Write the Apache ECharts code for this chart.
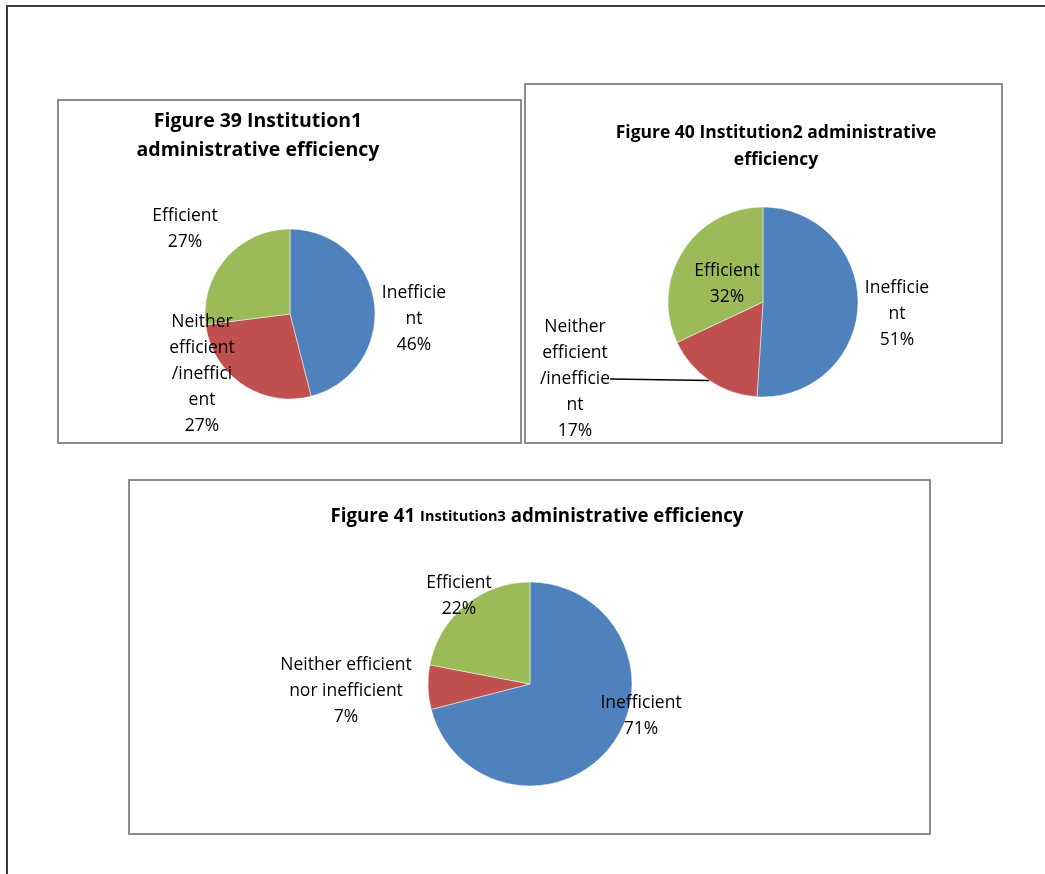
<!DOCTYPE html>
<html>
<head>
<meta charset="utf-8">
<title>Administrative efficiency by institution</title>
<script src="https://cdn.jsdelivr.net/npm/echarts@6/dist/echarts.min.js"></script>
<style>
  html, body { margin: 0; padding: 0; background: #fff; }
  #chart { width: 1045px; height: 874px; }
</style>
</head>
<body>
<div id="chart"></div>
<script>
// Categories and shares (%) for each institution
const categories1 = ['Inefficient', 'Neither efficient /inefficient', 'Efficient'];
const values1 = [46, 27, 27];
const labels1 = ['Inefficie\nnt', 'Neither\nefficient\n/ineffici\nent', 'Efficient'];

const categories2 = ['Inefficient', 'Neither efficient /inefficient', 'Efficient'];
const values2 = [51, 17, 32];
const labels2 = ['Inefficie\nnt', 'Neither\nefficient\n/inefficie\nnt', 'Efficient'];

const categories3 = ['Inefficient', 'Neither efficient nor inefficient', 'Efficient'];
const values3 = [71, 7, 22];
const labels3 = ['Inefficient', 'Neither efficient\nnor inefficient', 'Efficient'];

const title1 = 'Figure 39 Institution1\nadministrative efficiency';
const title2 = 'Figure 40 Institution2 administrative\nefficiency';

const COLORS = ['#4F81BD', '#C0504D', '#9BBB59'];
const FONT = '"Open Sans", Lato, sans-serif';

// Where each data label block is centred, per pie
const labelSpots = [
  [[414, 319], [202, 374], [185, 229]],
  [[897, 314], [575, 379], [727, 284]],
  [[641, 716], [346, 691], [459, 596]]
];

function buildData(cats, vals, lbls, leaderIndex) {
  return cats.map((c, i) => ({
    name: c,
    value: vals[i],
    labelText: lbls[i],
    itemStyle: { color: COLORS[i] },
    labelLine: { show: i === leaderIndex }
  }));
}

function pieSeries(idx, center, radius, data) {
  return {
    type: 'pie',
    center: center,
    radius: radius,
    startAngle: 90,
    clockwise: true,
    avoidLabelOverlap: false,
    silent: true,
    animation: false,
    itemStyle: { borderColor: 'rgba(255,255,255,0.6)', borderWidth: 0.8 },
    label: {
      show: true,
      position: 'outside',
      color: '#000',
      fontFamily: FONT,
      fontSize: 17.5,
      lineHeight: 26,
      align: 'center',
      formatter: p => p.data.labelText + '\n' + p.value + '%'
    },
    labelLine: {
      show: false,
      length: 10,
      length2: 0,
      smooth: false,
      lineStyle: { color: '#000', width: 1.5 }
    },
    labelLayout: p => {
      const s = labelSpots[idx][p.dataIndex];
      return { x: s[0], y: s[1], align: 'center', verticalAlign: 'middle' };
    },
    data: data
  };
}

const frame = (x1, y1, x2, y2) => ({
  type: 'rect',
  silent: true,
  shape: { x: x1, y: y1, width: x2 - x1, height: y2 - y1 },
  style: { fill: 'none', stroke: '#8c8c8c', lineWidth: 2 }
});

const chart = echarts.init(document.getElementById('chart'), null, { renderer: 'canvas' });

chart.setOption({
  backgroundColor: '#fff',
  animation: false,
  title: [
    {
      text: title1,
      left: 258, top: 107, padding: 0, textAlign: 'center',
      textStyle: { fontFamily: FONT, fontSize: 19.5, fontWeight: 'bold', color: '#000', lineHeight: 29 }
    },
    {
      text: title2,
      left: 776, top: 120, padding: 0, textAlign: 'center',
      textStyle: { fontFamily: FONT, fontSize: 17.5, fontWeight: 'bold', color: '#000', lineHeight: 27 }
    },
    {
      text: '{a|Figure 41} {b|Institution3} {a|administrative efficiency}',
      left: 537, top: 504, padding: 0, textAlign: 'center',
      textStyle: {
        rich: {
          a: { fontFamily: FONT, fontSize: 18.7, fontWeight: 'bold', color: '#000', lineHeight: 26 },
          b: { fontFamily: FONT, fontSize: 14.5, fontWeight: 'bold', color: '#000', lineHeight: 26 }
        }
      }
    }
  ],
  graphic: [
    // page border along the top and left edges
    {
      type: 'polyline', silent: true,
      shape: { points: [[7, 874], [7, 6], [1045, 6]] },
      style: { fill: 'none', stroke: '#3a3a3a', lineWidth: 2 }
    },
    frame(58, 100, 521, 443),
    frame(525, 84, 1002, 443),
    frame(129, 480, 930, 834)
  ],
  series: [
    pieSeries(0, [290, 314], 85, buildData(categories1, values1, labels1, -1)),
    pieSeries(1, [763, 302], 95, buildData(categories2, values2, labels2, 1)),
    pieSeries(2, [530, 684], 102, buildData(categories3, values3, labels3, -1))
  ]
});
</script>
</body>
</html>
